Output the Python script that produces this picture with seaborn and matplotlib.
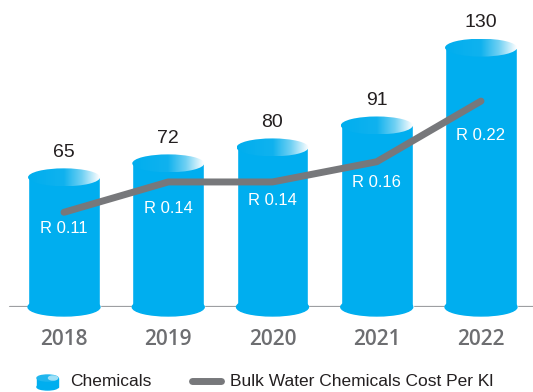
import numpy as np
import pandas as pd
import matplotlib.pyplot as plt
import seaborn as sns
from matplotlib.patches import Ellipse, Rectangle
from matplotlib.lines import Line2D
from matplotlib.colors import LinearSegmentedColormap

# ============================================================
# Data
# ============================================================

years = ["2018", "2019", "2020", "2021", "2022"]
chemicals = [65, 72, 80, 91, 130]
cost_per_kl = [0.11, 0.14, 0.14, 0.16, 0.22]
cost_labels = ["R 0.11", "R 0.14", "R 0.14", "R 0.16", "R 0.22"]

df = pd.DataFrame({"Year": years, "Chemicals": chemicals, "Cost": cost_per_kl})

# ============================================================
# Style
# ============================================================

sns.set_theme(style="white")
plt.rcParams["font.family"] = ["Liberation Sans", "DejaVu Sans"]

blue = "#00AEEF"
grey_line = "#77787B"
bar_w = 0.69
cap_h = 9.0

fig = plt.figure(figsize=(5.33, 3.92), dpi=100)
ax = fig.add_axes([0, 85 / 392, 1, 307 / 392])

# ============================================================
# Cylinders
# ============================================================

sns.barplot(data=df, x="Year", y="Chemicals", color=blue, saturation=1,
            width=bar_w, ax=ax, zorder=2)

ax.axhline(0, xmin=10 / 533, xmax=1, color="#9D9FA2", lw=1.6, zorder=1)

grad_cmap = LinearSegmentedColormap.from_list(
    "cap", [(0, blue), (0.5, "#10B2EE"), (0.75, "#6FD0F3"), (1, "#FFFFFF")])
grad = np.linspace(0, 1, 256).reshape(1, -1)

for i, v in enumerate(chemicals):
    bottom = Ellipse((i, 0), bar_w, cap_h, color=blue, zorder=2, clip_on=False)
    ax.add_patch(bottom)
    top = Ellipse((i, v), bar_w, cap_h, facecolor="none", edgecolor="none", zorder=3)
    ax.add_patch(top)
    im = ax.imshow(grad, cmap=grad_cmap, aspect="auto", zorder=3,
                   extent=[i - bar_w / 2, i + bar_w / 2, v - cap_h / 2, v + cap_h / 2])
    im.set_clip_path(top)
    ax.annotate(str(v), (i, v), xytext=(0, 18), textcoords="offset points",
                ha="center", va="center", fontsize=14, color="#231F20")

ax.set_xlim(-64 / 104.25, (533 - 64) / 104.25)
ax.set_ylim(0, 307 / 1.995)
ax.set_yticks([])
ax.set_xlabel("")
ax.set_ylabel("")
ax.tick_params(axis="x", length=0, pad=16)
for lab in ax.get_xticklabels():
    lab.set_family(["Open Sans", "DejaVu Sans"])
    lab.set_fontsize(15)
    lab.set_fontweight("semibold")
    lab.set_color("#6D6E71")
sns.despine(ax=ax, left=True, bottom=True)

# ============================================================
# Cost line
# ============================================================

ax2 = ax.twinx()
sns.lineplot(x=np.arange(len(years)), y=cost_per_kl, color=grey_line, lw=5,
             solid_capstyle="round", ax=ax2)
ax2.set_ylim(0.0163, 0.320)
ax2.set_yticks([])
sns.despine(ax=ax2, left=True, bottom=True, right=True)

label_offsets = [-12, -19, -13, -15, -25]
for i, (v, txt) in enumerate(zip(cost_per_kl, cost_labels)):
    ax2.annotate(txt, (i, v), xytext=(0, label_offsets[i]), textcoords="offset points",
                 ha="center", va="center", fontsize=12, color="white")

# ============================================================
# Legend
# ============================================================

def fy(px):
    return 1 - px / 392

fig.add_artist(Rectangle((37 / 533, fy(387)), 21 / 533, 9 / 392,
                         color=blue, transform=fig.transFigure))
fig.add_artist(Ellipse((47.5 / 533, fy(387)), 21 / 533, 6 / 392,
                       color=blue, transform=fig.transFigure))
fig.add_artist(Ellipse((47.5 / 533, fy(378)), 21 / 533, 6 / 392,
                       color="#1FB6EE", transform=fig.transFigure))
fig.add_artist(Ellipse((53 / 533, fy(378)), 9 / 533, 4 / 392,
                       color="#9FE0F7", transform=fig.transFigure))
fig.text(70 / 533, fy(381), "Chemicals", fontsize=12.5, color="#231F20",
         ha="left", va="center")
fig.add_artist(Line2D([192 / 533, 221 / 533], [fy(381), fy(381)], lw=5,
                      color=grey_line, solid_capstyle="round",
                      transform=fig.transFigure))
fig.text(230 / 533, fy(381), "Bulk Water Chemicals Cost Per Kl", fontsize=12.5,
         color="#231F20", ha="left", va="center")

plt.savefig("out.png", dpi=100)
